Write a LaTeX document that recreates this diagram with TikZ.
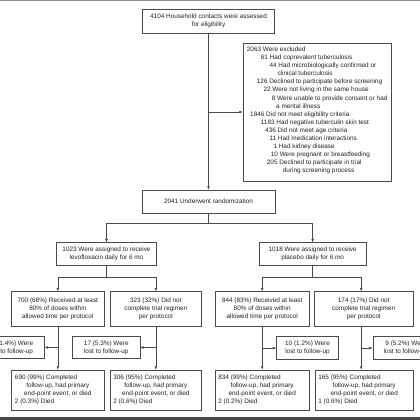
\documentclass[tikz,border=0pt]{standalone}
\usepackage{fontspec}
\setmainfont{Liberation Sans}
\usetikzlibrary{arrows.meta}
\definecolor{ln}{HTML}{4A4A4A}
\definecolor{tx}{HTML}{222222}
\newcommand{\fourlines}[5]{\makebox[#1][l]{#2}\\\makebox[#1][c]{#3}\\\makebox[#1][c]{#4}\\\makebox[#1][l]{#5}}
\tikzset{
  box/.style={draw=ln, line width=0.6pt, inner sep=0pt, align=center, text=tx,
    font=\fontsize{6.4}{8.1}\selectfont},
  endbox/.style={box, align=left, inner xsep=3.3pt, anchor=center},
  txt/.style={inner sep=0pt, align=left, text=tx, font=\fontsize{6.4}{8.1}\selectfont},
  arr/.style={draw=ln, line width=0.6pt, -{Latex[length=3.4pt,width=2.8pt]}},
  ln/.style={draw=ln, line width=0.6pt}
}
\begin{document}
\begin{tikzpicture}[x=1pt,y=-1pt]
\useasboundingbox (0,0) rectangle (420,420);
\clip (0,0) rectangle (420,420);
\fill[white] (0,0) rectangle (420,420);
% frame rules
\draw[black!45, line width=1.6pt] (0,0) -- (420,0);
\fill[black!72] (0,417) rectangle (420,420);

% top
\node[box, minimum width=132pt, minimum height=24pt] (n1) at (208.5,21)
  {4104 Household contacts were assessed\\for eligibility};
\node[box, minimum width=148pt, minimum height=138pt] (nexcl) at (317,112) {};
\node[txt, anchor=north west] (nexcltext) at (246.7,46.6) {%
\hspace*{0pt}2063 Were excluded\\
\hspace*{14pt}61 Had coprevalent tuberculosis\\
\hspace*{22.6pt}44 Had microbiologically confirmed or\\
\hspace*{30.6pt}clinical tuberculosis\\
\hspace*{10pt}126 Declined to participate before screening\\
\hspace*{16.6pt}22 Were not living in the same house\\
\hspace*{25pt}8 Were unable to provide consent or had\\
\hspace*{29.3pt}a mental illness\\
\hspace*{3.3pt}1846 Did not meet eligibility criteria\\
\hspace*{14pt}1183 Had negative tuberculin skin test\\
\hspace*{18.3pt}436 Did not meet age criteria\\
\hspace*{22.6pt}11 Had medication interactions\\
\hspace*{26.6pt}1 Had kidney disease\\
\hspace*{24pt}10 Were pregnant or breastfeeding\\
\hspace*{20pt}205 Declined to participate in trial\\
\hspace*{36pt}during screening process};
\node[box, minimum width=133pt, minimum height=23pt] (nrand) at (208.5,201.5)
  {2041 Underwent randomization};

% arms
\node[box, minimum width=100pt, minimum height=22.5pt] (nlevo) at (106.5,254)
  {1023 Were assigned to receive\\levofloxacin daily for 6 mo};
\node[box, minimum width=106.7pt, minimum height=22.5pt] (nplac) at (312.7,254)
  {1018 Were assigned to receive\\placebo daily for 6 mo};

% adherence
\node[box, minimum width=92.3pt, minimum height=34.3pt] (nA) at (57.8,308.8)
  {700 (68\%) Received at least\\80\% of doses within\\allowed time per protocol};
\node[box, minimum width=91.7pt, minimum height=34.3pt] (nB) at (155.8,308.8)
  {323 (32\%) Did not\\complete trial regimen\\per protocol};
\node[box, minimum width=94.3pt, minimum height=34.3pt] (nC) at (262.2,308.8)
  {844 (83\%) Received at least\\80\% of doses within\\allowed time per protocol};
\node[box, minimum width=99.3pt, minimum height=34.3pt] (nD) at (363.7,308.8)
  {174 (17\%) Did not\\complete trial regimen\\per protocol};

% lost to follow-up
\node[box, minimum width=67pt, minimum height=21.6pt] (nL1) at (10.8,347.5)
  {10 (1.4\%) Were\\lost to follow-up};
\node[box, minimum width=67.3pt, minimum height=21.6pt] (nL2) at (106.3,347.5)
  {17 (5.3\%) Were\\lost to follow-up};
\node[box, minimum width=61.7pt, minimum height=22.6pt] (nL3) at (307.5,348)
  {10 (1.2\%) Were\\lost to follow-up};
\node[box, minimum width=66pt, minimum height=22.6pt] (nL4) at (406,348)
  {9 (5.2\%) Were\\lost to follow-up};

% completed
\node[endbox, minimum height=40pt] (nE) at (57.8,390)
  {\fourlines{85.7pt}{690 (99\%) Completed}{follow-up, had primary}{end-point event, or died}{2 (0.3\%) Died}};
\node[endbox, minimum height=40pt] (nF) at (155.8,390)
  {\fourlines{85.1pt}{306 (95\%) Completed}{follow-up, had primary}{end-point event, or died}{2 (0.6\%) Died}};
\node[endbox, minimum height=40pt] (nG) at (262.2,390)
  {\fourlines{87.7pt}{834 (99\%) Completed}{follow-up, had primary}{end-point event, or died}{2 (0.2\%) Died}};
\node[endbox, minimum height=40pt] (nH) at (364.2,390)
  {\fourlines{91.7pt}{165 (95\%) Completed}{follow-up, had primary}{end-point event, or died}{1 (0.6\%) Died}};

\coordinate (colD) at (361.2,0);

% connectors
\draw[arr] (n1.south) -- (nrand.north);
\draw[arr] (n1.south |- nexcl.west) -- (nexcl.west);
\draw[arr] (nrand.south) -- ++(0,9.5) -| (nlevo.north);
\draw[arr] (nrand.south) -- ++(0,9.5) -| (nplac.north);
\draw[arr] (nlevo.south) -- ++(0,11.7) -| (nA.north);
\draw[arr] (nlevo.south) -- ++(0,11.7) -| (nB.north);
\draw[arr] (nplac.south) -- ++(0,11.7) -| (nC.north);
\draw[arr] (nplac.south) -- ++(0,11.7) -| (colD |- nD.north);
\draw[arr] (nA.south) -- (nE.north);
\draw[arr] (nB.south) -- (nF.north);
\draw[arr] (nC.south) -- (nG.north);
\draw[arr] (colD |- nD.south) -- (colD |- nH.north);
\draw[arr] (nA.south |- nL1.east) -- (nL1.east);
\draw[arr] (nB.south |- nL2.east) -- (nL2.east);
\draw[arr] (nC.south |- nL3.west) -- (nL3.west);
\draw[arr] (colD |- nL4.west) -- (nL4.west);
\end{tikzpicture}
\end{document}
